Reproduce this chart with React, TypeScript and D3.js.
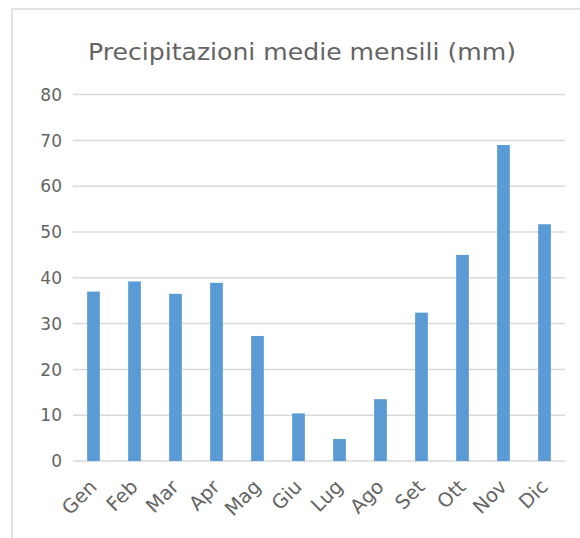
import React from "react";
import * as d3 from "d3";

// Monthly average precipitation (mm)
const months = ["Gen", "Feb", "Mar", "Apr", "Mag", "Giu", "Lug", "Ago", "Set", "Ott", "Nov", "Dic"];
const rainfall = [37.0, 39.2, 36.5, 38.9, 27.3, 10.4, 4.8, 13.5, 32.4, 45.0, 69.0, 51.7];
const yTicks = [0, 10, 20, 30, 40, 50, 60, 70, 80];
const title = "Precipitazioni medie mensili (mm)";

const W = 580;
const H = 538;
const plot = { left: 73, right: 565, top: 94.6, bottom: 461 };
const FONT = "'DejaVu Sans', sans-serif";
const TEXT = "#646464";
const GRID = "#d9d9d9";
const BAR = "#5b9bd5";

export default function App() {
  const x = d3
    .scaleBand<string>()
    .domain(months)
    .range([plot.left, plot.right])
    .paddingInner(0.69)
    .paddingOuter(0.345);
  const y = d3.scaleLinear().domain([0, 80]).range([plot.bottom, plot.top]);

  return (
    <svg
      width={W}
      height={H}
      style={{ position: "absolute", left: 0, top: 0, background: "#fff" }}
    >
      <rect x={12} y={9} width={W} height={H} fill="#fff" stroke={GRID} strokeWidth={1.5} />
      <text
        x={302}
        y={60}
        textAnchor="middle"
        fontFamily={FONT}
        fontSize={23}
        fill={TEXT}
        textLength={428}
        lengthAdjust="spacingAndGlyphs"
      >
        {title}
      </text>
      {yTicks.map((t) => (
        <g key={t}>
          <line x1={plot.left} x2={plot.right} y1={y(t)} y2={y(t)} stroke={GRID} strokeWidth={1.5} />
          <text
            x={62}
            y={y(t)}
            dy="0.36em"
            textAnchor="end"
            fontFamily={FONT}
            fontSize={17}
            fill={TEXT}
          >
            {t}
          </text>
        </g>
      ))}
      {months.map((m, i) => (
        <rect
          key={m}
          x={x(m)}
          y={y(rainfall[i])}
          width={x.bandwidth()}
          height={y(0) - y(rainfall[i])}
          fill={BAR}
        />
      ))}
      {months.map((m) => {
        const cx = (x(m) as number) + x.bandwidth() / 2 + 4.5;
        const cy = 488;
        return (
          <text
            key={m}
            transform={`translate(${cx},${cy}) rotate(-45)`}
            textAnchor="end"
            fontFamily={FONT}
            fontSize={19.5}
            fill={TEXT}
          >
            {m}
          </text>
        );
      })}
    </svg>
  );
}
